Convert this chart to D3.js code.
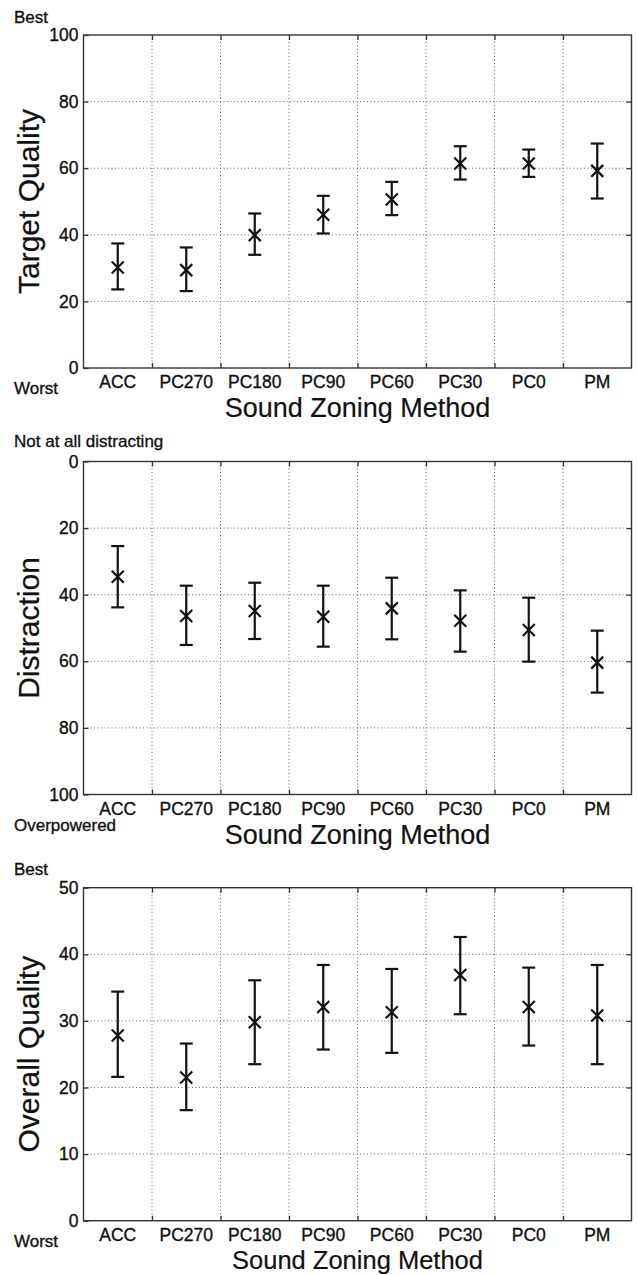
<!DOCTYPE html>
<html>
<head>
<meta charset="utf-8">
<script src="https://cdn.jsdelivr.net/npm/d3@7"></script>
<style>
  body { margin: 0; background: #fff; }
  svg text { font-family: "Liberation Sans", Arial, Helvetica, sans-serif; fill: #111; stroke: #111; stroke-width: 0.35px; }
</style>
</head>
<body>
<div id="chart"></div>
<script>
// categories along x
var methods = ["ACC", "PC270", "PC180", "PC90", "PC60", "PC30", "PC0", "PM"];

// Target quality (mean and interval ends)
var targetMean = [30.2, 29.4, 39.9, 46.0, 50.6, 61.4, 61.4, 59.2];
var targetLow  = [23.6, 23.1, 34.0, 40.4, 45.9, 56.6, 57.4, 50.9];
var targetHigh = [37.4, 36.2, 46.4, 51.7, 55.9, 66.6, 65.6, 67.4];
var targetTicks = [0, 20, 40, 60, 80, 100];

// Distraction (axis reversed)
var distractMean = [34.6, 46.4, 44.9, 46.6, 44.1, 47.8, 50.6, 60.4];
var distractLow  = [25.4, 37.3, 36.4, 37.3, 34.9, 38.7, 40.9, 50.8];
var distractHigh = [43.8, 55.1, 53.3, 55.6, 53.4, 57.1, 60.1, 69.4];
var distractTicks = [0, 20, 40, 60, 80, 100];

// Overall quality
var overallMean = [27.8, 21.5, 29.8, 32.1, 31.3, 36.9, 32.1, 30.8];
var overallLow  = [21.6, 16.6, 23.5, 25.7, 25.2, 31.0, 26.3, 23.5];
var overallHigh = [34.4, 26.6, 36.1, 38.4, 37.8, 42.6, 38.0, 38.4];
var overallTicks = [0, 10, 20, 30, 40, 50];

var yTitles = ["Target Quality", "Distraction", "Overall Quality"];
var topNotes = ["Best", "Not at all distracting", "Best"];
var bottomNotes = ["Worst", "Overpowered", "Worst"];
var xTitle = "Sound Zoning Method";

var width = 638, height = 1275;
var left = 83.5, right = 631.5;
var panelTops = [35, 461.5, 887.7];
var panelH = 333;
var titleDy = [49, 49, 48.5];
var titleSize = [27, 27, 25.5];

var svg = d3.select("#chart").append("svg")
    .attr("width", width)
    .attr("height", height);

var x = d3.scaleBand().domain(methods).range([left, right]).paddingInner(0).paddingOuter(0);
// boundaries between categories (where the grid and ticks sit)
var edge = d3.scaleLinear().domain([0, methods.length]).range([left, right]);
var edges = d3.range(1, methods.length);

function panel(i, mean, low, high, ticks, reversed, noteDy) {
    var top = panelTops[i], bottom = top + panelH;
    var y = d3.scaleLinear()
        .domain([ticks[0], ticks[ticks.length - 1]])
        .range(reversed ? [top, bottom] : [bottom, top]);
    var g = svg.append("g");
    var inner = ticks.slice(1, -1);

    // dotted grid
    g.selectAll(".hg").data(inner).enter().append("line")
        .attr("x1", left).attr("x2", right)
        .attr("y1", function(d) { return y(d); })
        .attr("y2", function(d) { return y(d); })
        .style("stroke", "#666").style("stroke-width", 1)
        .style("stroke-dasharray", "1,2.5");
    g.selectAll(".vg").data(edges).enter().append("line")
        .attr("x1", function(d) { return edge(d); })
        .attr("x2", function(d) { return edge(d); })
        .attr("y1", top).attr("y2", bottom)
        .style("stroke", "#666").style("stroke-width", 1)
        .style("stroke-dasharray", "1,2.5");

    // axes
    var yl = g.append("g").attr("transform", "translate(" + left + ",0)")
        .call(d3.axisLeft(y).tickValues(ticks).tickSize(-5).tickPadding(5));
    var yr = g.append("g").attr("transform", "translate(" + right + ",0)")
        .call(d3.axisRight(y).tickValues(inner).tickSize(-5).tickFormat(""));
    var xt = g.append("g").attr("transform", "translate(0," + top + ")")
        .call(d3.axisTop(edge).tickValues(edges).tickSize(-5).tickFormat(""));
    var xb = g.append("g").attr("transform", "translate(0," + bottom + ")")
        .call(d3.axisBottom(edge).tickValues(edges).tickSize(-5).tickFormat(""));
    var xl = g.append("g").attr("transform", "translate(0," + bottom + ")")
        .call(d3.axisBottom(x).tickSize(0).tickPadding(8));
    [yl, yr, xt, xb, xl].forEach(function(a) {
        a.select(".domain").remove();
        a.selectAll("line").style("stroke", "#333").style("stroke-width", 1.3);
        a.selectAll("text").style("font-size", "17.5px").style("fill", "#111")
            .style("font-family", "'Liberation Sans', Arial, sans-serif");
    });

    // box
    g.append("rect")
        .attr("x", left).attr("y", top)
        .attr("width", right - left).attr("height", bottom - top)
        .style("fill", "none").style("stroke", "#333").style("stroke-width", 1.4);

    // error bars
    var idx = d3.range(methods.length);
    var cap = 6.5, arm = 6;
    var eb = g.selectAll(".eb").data(idx).enter().append("g");
    eb.append("line")
        .attr("x1", function(j) { return x(methods[j]) + x.bandwidth() / 2; })
        .attr("x2", function(j) { return x(methods[j]) + x.bandwidth() / 2; })
        .attr("y1", function(j) { return y(low[j]); })
        .attr("y2", function(j) { return y(high[j]); });
    eb.append("line")
        .attr("x1", function(j) { return x(methods[j]) + x.bandwidth() / 2 - cap; })
        .attr("x2", function(j) { return x(methods[j]) + x.bandwidth() / 2 + cap; })
        .attr("y1", function(j) { return y(low[j]); })
        .attr("y2", function(j) { return y(low[j]); });
    eb.append("line")
        .attr("x1", function(j) { return x(methods[j]) + x.bandwidth() / 2 - cap; })
        .attr("x2", function(j) { return x(methods[j]) + x.bandwidth() / 2 + cap; })
        .attr("y1", function(j) { return y(high[j]); })
        .attr("y2", function(j) { return y(high[j]); });
    // x markers
    eb.append("line")
        .attr("x1", function(j) { return x(methods[j]) + x.bandwidth() / 2 - arm; })
        .attr("x2", function(j) { return x(methods[j]) + x.bandwidth() / 2 + arm; })
        .attr("y1", function(j) { return y(mean[j]) - arm; })
        .attr("y2", function(j) { return y(mean[j]) + arm; });
    eb.append("line")
        .attr("x1", function(j) { return x(methods[j]) + x.bandwidth() / 2 - arm; })
        .attr("x2", function(j) { return x(methods[j]) + x.bandwidth() / 2 + arm; })
        .attr("y1", function(j) { return y(mean[j]) + arm; })
        .attr("y2", function(j) { return y(mean[j]) - arm; });
    eb.selectAll("line").style("stroke", "#111").style("stroke-width", 2.2);

    // titles and notes
    g.append("text")
        .attr("x", (left + right) / 2).attr("y", bottom + titleDy[i])
        .attr("text-anchor", "middle").style("font-size", titleSize[i] + "px")
        .style("stroke-width", "0.2px")
        .text(xTitle);
    g.append("text")
        .attr("transform", "translate(39," + (top + bottom) / 2 + ") rotate(-90)")
        .attr("text-anchor", "middle").style("font-size", "30px")
        .style("stroke-width", "0.2px")
        .text(yTitles[i]);
    g.append("text")
        .attr("x", 14).attr("y", top - (i === 1 ? 14.5 : 12.5))
        .style("font-size", "17px")
        .text(topNotes[i]);
    g.append("text")
        .attr("x", 14).attr("y", bottom + noteDy)
        .style("font-size", "17px")
        .text(bottomNotes[i]);
}

panel(0, targetMean, targetLow, targetHigh, targetTicks, false, 26);
panel(1, distractMean, distractLow, distractHigh, distractTicks, true, 36);
panel(2, overallMean, overallLow, overallHigh, overallTicks, false, 26);
</script>
</body>
</html>
